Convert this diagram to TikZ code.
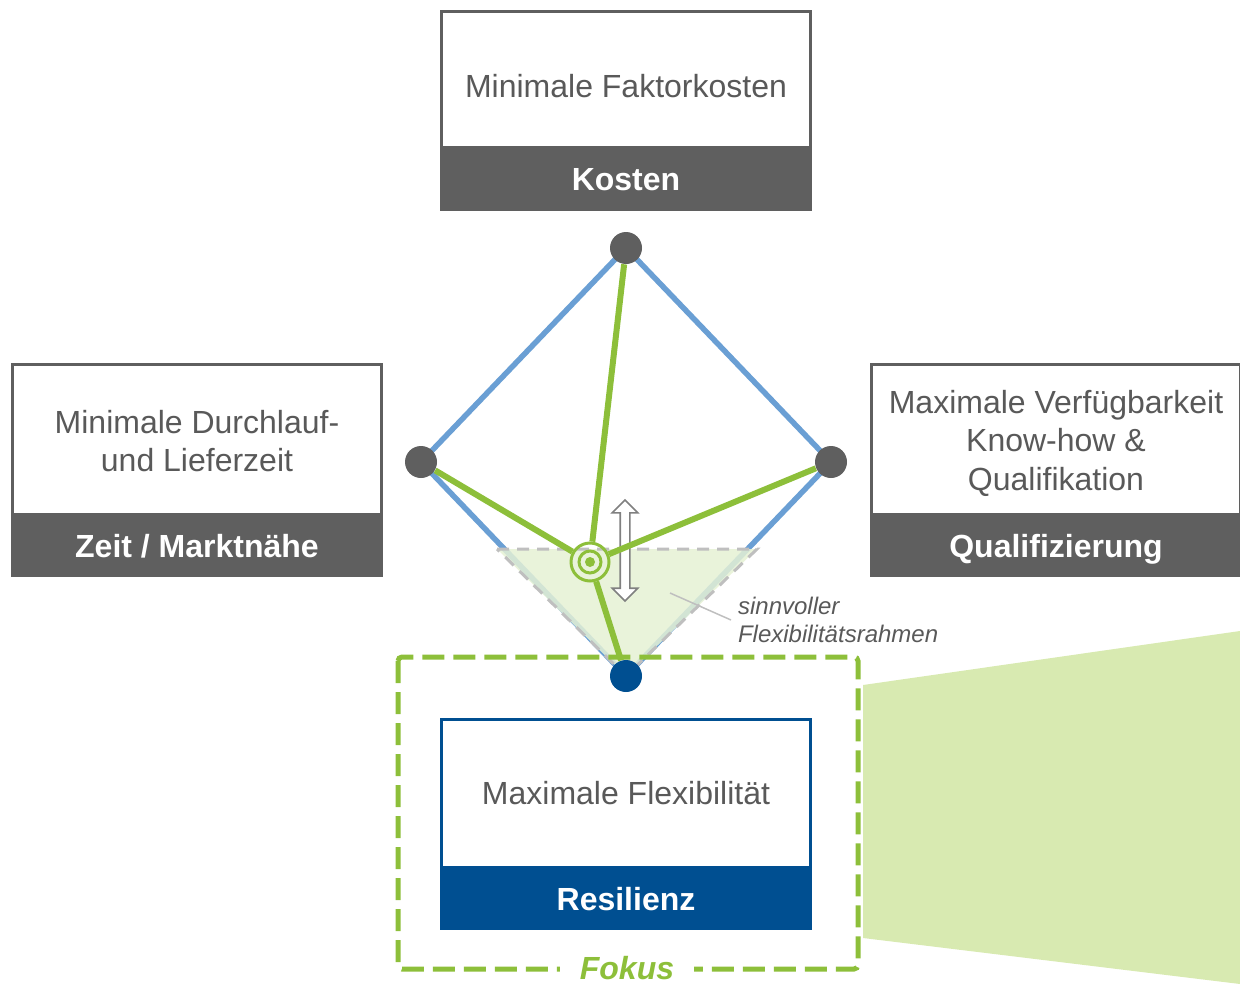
\documentclass[tikz,border=0pt]{standalone}
\usepackage{fontspec}
\setmainfont{Liberation Sans}
\usetikzlibrary{shapes,arrows,positioning}

\definecolor{boxgrau}{HTML}{5F5F5F}
\definecolor{textgrau}{HTML}{595959}
\definecolor{resblau}{HTML}{004F91}
\definecolor{linienblau}{HTML}{6A9FD4}
\definecolor{fokusgruen}{HTML}{8DBF3A}
\definecolor{flaechegruen}{HTML}{D8EAB1}
\definecolor{rahmengruen}{HTML}{E5F1D4}
\definecolor{leitgrau}{HTML}{BFBFBF}

\pgfdeclarelayer{bg}
\pgfsetlayers{bg,main}

\begin{document}
\begin{tikzpicture}[x=0.5pt,y=-0.5pt]
  \tikzset{
    ziel/.style={draw=boxgrau, line width=1.5pt, fill=white, text=textgrau, minimum width=184.5pt,
      align=center, outer sep=0pt, font=\fontsize{16}{19.3}\selectfont},
    kategorie/.style={fill=boxgrau, text=white, minimum width=186pt, minimum height=31.5pt,
      text height=11.5pt, text depth=0pt, outer sep=0pt, font=\fontsize{16}{19.3}\selectfont\bfseries},
    ecke/.style={circle, fill=boxgrau, minimum size=16pt, inner sep=0pt},
    kante/.style={draw=linienblau, line width=2.75pt, line join=round},
    strahl/.style={draw=fokusgruen, line width=3pt},
    pfeil/.style={double arrow, draw=gray, line width=0.8pt, fill=white, rotate=90,
      minimum height=50.5pt, inner sep=2pt, double arrow head extend=4pt},
  }
  \useasboundingbox (0,0) rectangle (1240,984);

  % Fokusflaeche rechts
  \fill[flaechegruen] (863,685) -- (1240,631) -- (1240,984) -- (863,938) -- cycle;

  % Zielsystem
  \node[kategorie] (kosten) at (626,179.5) {Kosten};
  \node[ziel, minimum height=68pt, text height=17.7pt, text depth=0pt, above=0pt of kosten]
    (kostenziel) {Minimale Faktorkosten};

  \node[kategorie] (zeit) at (197,545.5) {Zeit / Marktnähe};
  \node[ziel, minimum height=75pt, above=0pt of zeit] (zeitziel)
    {\rule{0pt}{13.7pt}Minimale Durchlauf-\\und Lieferzeit};

  \node[kategorie] (quali) at (1056,545.5) {Qualifizierung};
  \node[ziel, minimum height=75pt, above=0pt of quali] (qualiziel)
    {\rule{0pt}{16pt}Maximale Verfügbarkeit\\Know-how \&\\Qualifikation};

  \node[kategorie, fill=resblau] (resilienz) at (626,898.5) {Resilienz};
  \node[ziel, draw=resblau, minimum height=74pt, above=0pt of resilienz] (resilienzziel)
    {Maximale Flexibilität};

  % Ecken und Mitte
  \node[ecke] (ek) at (626,248) {};
  \node[ecke] (ez) at (421,462) {};
  \node[ecke] (eq) at (831,462) {};
  \node[ecke, fill=resblau] (er) at (626,676) {};

  \node[circle, draw=fokusgruen, line width=1.5pt, minimum size=19pt, inner sep=0pt] (mitte) at (590,562) {};
  \draw[fokusgruen, line width=1.5pt] (mitte.center) circle (5.5pt);
  \fill[fokusgruen] (mitte.center) circle (2.5pt);

  \coordinate (rahmenl) at (497,549);
  \coordinate (rahmenr) at (757,549);

  \begin{pgfonlayer}{bg}
    \draw[kante] (ek.center) -- (eq.center) -- (er.center) -- (ez.center) -- cycle;
    \draw[leitgrau, line width=1.5pt, dash pattern=on 6pt off 4pt, fill=rahmengruen, fill opacity=0.85]
      (rahmenl) -- (rahmenr) -- (er.center) -- cycle;
    \draw[fokusgruen, line width=2.5pt, dash pattern=on 11pt off 4.5pt, rounded corners=2pt]
      (398,657) rectangle (858,969);
    \node[pfeil] (hub) at (625,550.5) {};
    \draw[strahl] (ek) -- (mitte);
    \draw[strahl] (ez) -- (mitte);
    \draw[strahl] (eq) -- (mitte);
    \draw[strahl] (mitte) -- (er);
  \end{pgfonlayer}

  % Beschriftung
  \node[text=textgrau, font=\itshape\fontsize{12}{14}\selectfont, align=left, anchor=west]
    (rahmentext) at (731,620) {sinnvoller\\Flexibilitätsrahmen};
  \coordinate (zeiger) at (670,593);
  \draw[leitgrau, line width=0.75pt] (rahmentext.west) -- (zeiger);

  \node[fill=white, text=fokusgruen, font=\bfseries\itshape\fontsize{16}{19}\selectfont,
    inner xsep=10pt, inner ysep=0.5pt] (fokus) at (627,968) {Fokus};
\end{tikzpicture}
\end{document}
